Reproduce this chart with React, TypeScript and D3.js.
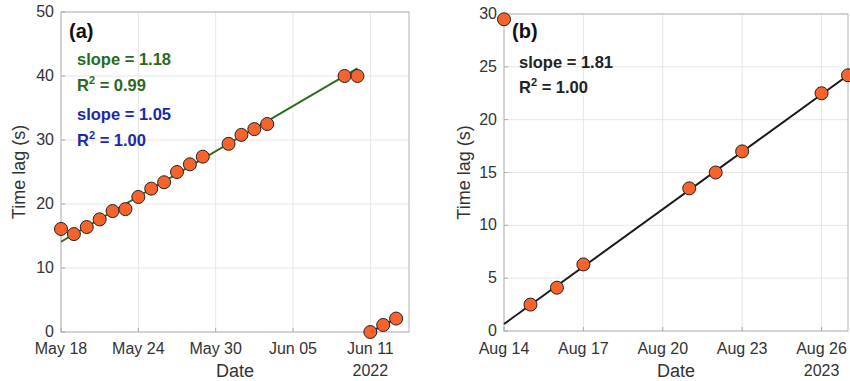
import React, { useEffect, useRef } from "react";
import * as d3 from "d3";

// panel (a) — 2022
const datesA = [
  "2022-05-18", "2022-05-19", "2022-05-20", "2022-05-21", "2022-05-22", "2022-05-23",
  "2022-05-24", "2022-05-25", "2022-05-26", "2022-05-27", "2022-05-28", "2022-05-29",
  "2022-05-31", "2022-06-01", "2022-06-02", "2022-06-03", "2022-06-09", "2022-06-10",
  "2022-06-11", "2022-06-12", "2022-06-13",
];
const lagA = [16.1, 15.3, 16.4, 17.6, 18.9, 19.2, 21.1, 22.4, 23.4, 25.0, 26.2, 27.4,
  29.4, 30.8, 31.7, 32.5, 40.0, 40.0, 0.0, 1.1, 2.1];
const fitGreenDates = ["2022-05-18", "2022-06-10"];
const fitGreenLag = [14.1, 41.2];
const fitBlueDates = ["2022-06-11", "2022-06-13"];
const fitBlueLag = [0.0, 2.1];
const ticksA = ["2022-05-18", "2022-05-24", "2022-05-30", "2022-06-05", "2022-06-11"];
const domainA = ["2022-05-18", "2022-06-14"];
const yTicksA = [0, 10, 20, 30, 40, 50];

// panel (b) — 2023
const datesB = ["2023-08-14", "2023-08-15", "2023-08-16", "2023-08-17", "2023-08-21",
  "2023-08-22", "2023-08-23", "2023-08-26", "2023-08-27"];
const lagB = [29.5, 2.5, 4.1, 6.3, 13.5, 15.0, 17.0, 22.5, 24.2];
const fitBDates = ["2023-08-14", "2023-08-27"];
const fitBLag = [0.66, 24.2];
const ticksB = ["2023-08-14", "2023-08-17", "2023-08-20", "2023-08-23", "2023-08-26"];
const domainB = ["2023-08-14", "2023-08-27"];
const yTicksB = [0, 5, 10, 15, 20, 25, 30];

const parse = (s: string) => d3.utcParse("%Y-%m-%d")(s) as Date;
const fmt = d3.utcFormat("%b %d");
const FONT = "Liberation Sans, Arial, sans-serif";

function drawPanel(svg: any, cfg: any) {
  const { left, top, right, bottom } = cfg;
  const x = d3.scaleUtc().domain(cfg.domain.map(parse)).range([left, right]);
  const y = d3.scaleLinear().domain([0, cfg.yMax]).range([bottom, top]);
  const g = svg.append("g");

  // grid
  g.selectAll(".gx").data(cfg.xTicks.map(parse)).join("line")
    .attr("x1", (d: Date) => x(d)).attr("x2", (d: Date) => x(d))
    .attr("y1", top).attr("y2", bottom).attr("stroke", "#e6e6e6");
  g.selectAll(".gy").data(cfg.yTicks).join("line")
    .attr("x1", left).attr("x2", right)
    .attr("y1", (d: number) => y(d)).attr("y2", (d: number) => y(d)).attr("stroke", "#e6e6e6");

  // box
  g.append("rect").attr("x", left).attr("y", top)
    .attr("width", right - left).attr("height", bottom - top)
    .attr("fill", "none").attr("stroke", "#b3b3b3").attr("stroke-width", 1);

  // ticks (inward)
  g.selectAll(".tx").data(cfg.xTicks.map(parse)).join("line")
    .attr("x1", (d: Date) => x(d)).attr("x2", (d: Date) => x(d))
    .attr("y1", bottom).attr("y2", bottom - 4).attr("stroke", "#aaa");
  g.selectAll(".ty").data(cfg.yTicks).join("line")
    .attr("x1", left).attr("x2", left + 4)
    .attr("y1", (d: number) => y(d)).attr("y2", (d: number) => y(d)).attr("stroke", "#aaa");

  // tick labels
  g.selectAll(".lx").data(cfg.xTicks.map(parse)).join("text")
    .attr("x", (d: Date) => x(d)).attr("y", 354)
    .attr("text-anchor", "middle").attr("font-family", FONT).attr("font-size", 16)
    .attr("fill", "#333").text((d: Date) => fmt(d));
  g.selectAll(".ly").data(cfg.yTicks).join("text")
    .attr("x", left - 7).attr("y", (d: number) => y(d)).attr("dy", "0.32em")
    .attr("text-anchor", "end").attr("font-family", FONT).attr("font-size", 16)
    .attr("fill", "#333").text((d: number) => d);

  // axis labels
  g.append("text").attr("x", cfg.dateX).attr("y", 377).attr("text-anchor", "middle")
    .attr("font-family", FONT).attr("font-size", 18).attr("fill", "#333").text("Date");
  g.append("text").attr("x", x(parse(cfg.xTicks[cfg.xTicks.length - 1]))).attr("y", 376)
    .attr("text-anchor", "middle").attr("font-family", FONT).attr("font-size", 16)
    .attr("fill", "#333").text(cfg.year);
  g.append("text")
    .attr("transform", `translate(${cfg.yLabelX}, ${(top + bottom) / 2}) rotate(-90)`)
    .attr("text-anchor", "middle").attr("dy", "0.35em")
    .attr("font-family", FONT).attr("font-size", 18).attr("fill", "#333").text("Time lag (s)");

  // fit lines
  const line = d3.line<[Date, number]>().x((d) => x(d[0])).y((d) => y(d[1]));
  cfg.fits.forEach((f: any) => {
    const pts: [Date, number][] = f.dates.map((s: string, i: number) => [parse(s), f.lag[i]]);
    g.append("path").attr("d", line(pts)).attr("fill", "none")
      .attr("stroke", f.color).attr("stroke-width", 2);
  });

  // markers
  g.selectAll(".pt").data(cfg.dates.map((s: string, i: number) => [parse(s), cfg.lag[i]]))
    .join("circle")
    .attr("cx", (d: any) => x(d[0])).attr("cy", (d: any) => y(d[1])).attr("r", 6.5)
    .attr("fill", "#f7632a").attr("stroke", "#222").attr("stroke-width", 1);

  // annotations
  g.append("text").attr("x", cfg.tagX).attr("y", 38).attr("font-family", FONT)
    .attr("font-size", 20).attr("font-weight", "bold").attr("fill", "#111").text(cfg.tag);
  cfg.notes.forEach((n: any) => {
    g.append("text").attr("x", cfg.noteX).attr("y", n.y1).attr("font-family", FONT)
      .attr("font-size", 16.5).attr("font-weight", "bold").attr("fill", n.color)
      .text(`slope = ${n.slope}`);
    const t = g.append("text").attr("x", cfg.noteX).attr("y", n.y2).attr("font-family", FONT)
      .attr("font-size", 16.5).attr("font-weight", "bold").attr("fill", n.color);
    t.append("tspan").text("R");
    t.append("tspan").attr("dy", -7).attr("font-size", 11).text("2");
    t.append("tspan").attr("dy", 7).text(` = ${n.r2}`);
  });
}

export default function App() {
  const ref = useRef<SVGSVGElement>(null);

  useEffect(() => {
    const svg = d3.select(ref.current);
    svg.selectAll("*").remove();
    svg.append("rect").attr("width", 850).attr("height", 381).attr("fill", "#fff");

    drawPanel(svg, {
      left: 61, top: 12, right: 409, bottom: 332,
      domain: domainA, yMax: 50, xTicks: ticksA, yTicks: yTicksA,
      dates: datesA, lag: lagA, year: "2022", dateX: 235, yLabelX: 19,
      fits: [
        { dates: fitGreenDates, lag: fitGreenLag, color: "#2b6a1c" },
        { dates: fitBlueDates, lag: fitBlueLag, color: "#1b2aa8" },
      ],
      tag: "(a)", tagX: 69, noteX: 77,
      notes: [
        { slope: "1.18", r2: "0.99", color: "#2b6a1c", y1: 65, y2: 91 },
        { slope: "1.05", r2: "1.00", color: "#1b2aa8", y1: 120, y2: 146 },
      ],
    });

    drawPanel(svg, {
      left: 504, top: 14, right: 848, bottom: 331,
      domain: domainB, yMax: 30, xTicks: ticksB, yTicks: yTicksB,
      dates: datesB, lag: lagB, year: "2023", dateX: 676, yLabelX: 464,
      fits: [{ dates: fitBDates, lag: fitBLag, color: "#1a1a1a" }],
      tag: "(b)", tagX: 512, noteX: 519,
      notes: [{ slope: "1.81", r2: "1.00", color: "#222", y1: 68, y2: 93 }],
    });
  }, []);

  return (
    <svg ref={ref} width={850} height={381}
      style={{ position: "absolute", left: 0, top: 0, display: "block" }} />
  );
}
